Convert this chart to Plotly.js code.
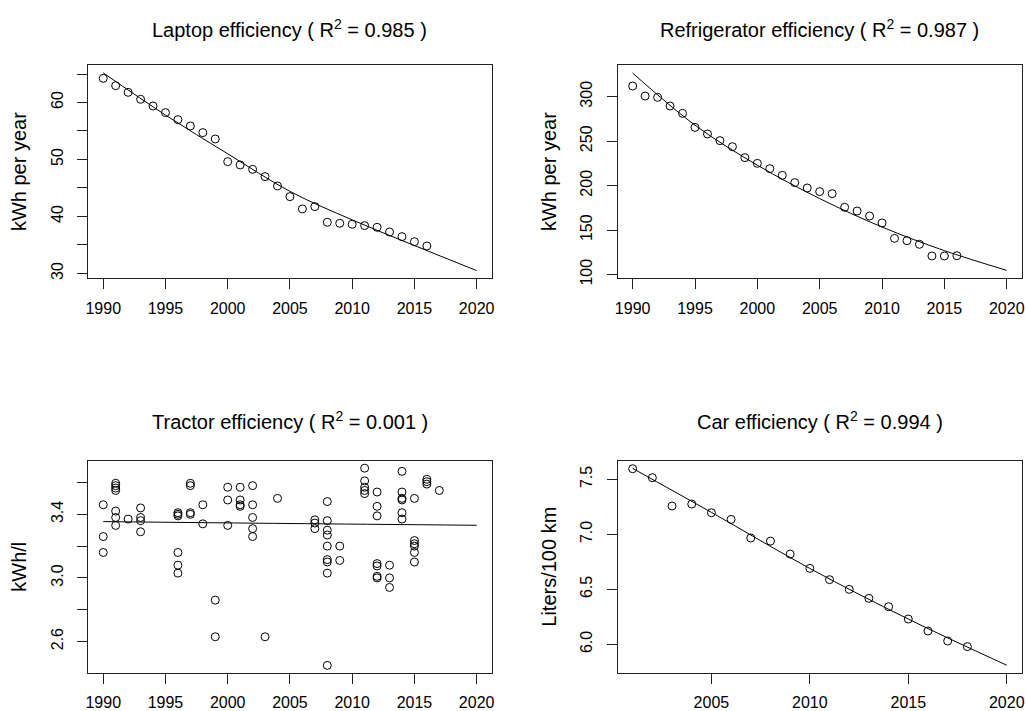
<!DOCTYPE html>
<html>
<head>
<meta charset="utf-8">
<script src="https://cdn.plot.ly/plotly-3.0.1.min.js"></script>
<style>html,body{margin:0;padding:0;background:#fff;}#chart{width:1026px;height:711px;}</style>
</head>
<body>
<div id="chart"></div>
<script>
// ---------- Data ----------
const laptopYears = [1990,1991,1992,1993,1994,1995,1996,1997,1998,1999,2000,2001,2002,2003,2004,2005,2006,2007,2008,2009,2010,2011,2012,2013,2014,2015,2016];
const laptopKwh = [64.24,62.95,61.78,60.56,59.39,58.22,56.99,55.88,54.71,53.6,49.62,49.04,48.27,46.99,45.35,43.48,41.32,41.73,38.98,38.8,38.63,38.39,38.1,37.28,36.46,35.58,34.82];
const laptopFitYears = [1990,1995,2000,2005,2010,2015,2020];
const laptopFit = [65.2,57.8,51.0,44.4,39.4,34.9,30.5];

const fridgeYears = [1990,1991,1992,1993,1994,1995,1996,1997,1998,1999,2000,2001,2002,2003,2004,2005,2006,2007,2008,2009,2010,2011,2012,2013,2014,2015,2016];
const fridgeKwh = [312.0,300.7,299.3,289.5,281.3,265.5,258.1,250.6,243.8,231.5,225.1,219.1,211.6,203.4,197.4,193.3,191.0,175.7,171.5,165.9,158.1,140.8,138.2,134.1,121.0,121.0,121.3];
const fridgeFitYears = [1990,1995,2000,2005,2010,2015,2020];
const fridgeFit = [326.5,268,223,185.5,153.5,127,104.8];

const tractorYears = [
  1990,1990,1990,
  1991,1991,1991,1991,1991,1991,1991,
  1992,
  1993,1993,1993,1993,
  1996,1996,1996,1996,1996,1996,
  1997,1997,1997,1997,
  1998,1998,
  1999,1999,
  2000,2000,2000,
  2001,2001,2001,2001,
  2002,2002,2002,2002,2002,
  2003,
  2004,
  2007,2007,2007,
  2008,2008,2008,2008,2008,2008,2008,2008,2008,
  2009,2009,
  2011,2011,2011,2011,2011,
  2012,2012,2012,2012,2012,2012,2012,
  2013,2013,2013,
  2014,2014,2014,2014,2014,2014,
  2015,2015,2015,2015,2015,2015,
  2016,2016,2016,
  2017
];
const tractorKwhL = [
  3.46,3.26,3.16,
  3.595,3.58,3.565,3.55,3.42,3.38,3.33,
  3.37,
  3.44,3.38,3.36,3.29,
  3.41,3.40,3.39,3.16,3.08,3.03,
  3.595,3.58,3.41,3.40,
  3.46,3.34,
  2.86,2.63,
  3.57,3.49,3.33,
  3.57,3.49,3.46,3.45,
  3.58,3.46,3.38,3.31,3.26,
  2.63,
  3.50,
  3.365,3.345,3.31,
  3.48,3.36,3.30,3.27,3.20,3.115,3.10,3.03,2.45,
  3.20,3.11,
  3.69,3.61,3.57,3.55,3.53,
  3.54,3.45,3.39,3.09,3.075,3.01,3.00,
  3.08,3.00,2.94,
  3.67,3.54,3.50,3.49,3.41,3.37,
  3.50,3.235,3.215,3.20,3.16,3.10,
  3.62,3.605,3.59,
  3.55
];
const tractorFitYears = [1990,2005,2020];
const tractorFit = [3.354,3.342,3.331];

const carYears = [2001,2002,2003,2004,2005,2006,2007,2008,2009,2010,2011,2012,2013,2014,2015,2016,2017,2018];
const carLiters = [7.597,7.515,7.258,7.276,7.197,7.136,6.967,6.939,6.821,6.691,6.588,6.5,6.418,6.342,6.23,6.121,6.03,5.979];
const carFitYears = [2001,2005,2010,2015,2020];
const carFit = [7.60,7.20,6.69,6.23,5.81];

const panelTitles = [
  'Laptop efficiency ( R<sup>2</sup> = 0.985 )',
  'Refrigerator efficiency ( R<sup>2</sup> = 0.987 )',
  'Tractor efficiency ( R<sup>2</sup> = 0.001 )',
  'Car efficiency ( R<sup>2</sup> = 0.994 )'
];
const yTitles = ['kWh per year','kWh per year','kWh/l','Liters/100 km'];

const yearTicks = [1990,1995,2000,2005,2010,2015,2020];
const carTicks = [2005,2010,2015,2020];
const laptopTicks = [30,40,50,60];
const laptopMinor = [35,45,55,65];
const fridgeTicks = [100,150,200,250,300];
const tractorTicks = [2.6,3.0,3.4];
const tractorMinor = [2.8,3.2,3.6];
const carYTicks = [6.0,6.5,7.0,7.5];

// ---------- Styling ----------
const FONT = 'Liberation Sans, Arial, sans-serif';
const W = 1026, H = 711;
const LINE = '#222';

function pts(x, y, xa, ya) {
  return {x: x, y: y, xaxis: xa, yaxis: ya, type: 'scatter', mode: 'markers',
    marker: {symbol: 'circle-open', size: 8, color: '#000', line: {width: 1, color: '#000'}},
    hoverinfo: 'x+y', showlegend: false};
}
function fit(x, y, xa, ya) {
  return {x: x, y: y, xaxis: xa, yaxis: ya, type: 'scatter', mode: 'lines',
    line: {color: '#000', width: 1, shape: 'spline'}, hoverinfo: 'skip', showlegend: false};
}

const data = [
  pts(laptopYears, laptopKwh, 'x', 'y'), fit(laptopFitYears, laptopFit, 'x', 'y'),
  pts(fridgeYears, fridgeKwh, 'x2', 'y2'), fit(fridgeFitYears, fridgeFit, 'x2', 'y2'),
  pts(tractorYears, tractorKwhL, 'x3', 'y3'), fit(tractorFitYears, tractorFit, 'x3', 'y3'),
  pts(carYears, carLiters, 'x4', 'y4'), fit(carFitYears, carFit, 'x4', 'y4')
];

function xAxis(domain, anchor, range, tv) {
  return {domain: domain, anchor: anchor, range: range, tickmode: 'array', tickvals: tv,
    ticktext: tv.map(v => String(v)),
    showgrid: false, zeroline: false, showline: true, mirror: true, linecolor: LINE, linewidth: 1,
    ticks: 'outside', ticklen: 10, tickwidth: 1, tickcolor: LINE, ticklabelstandoff: 5,
    tickfont: {family: FONT, size: 16, color: '#000'}, fixedrange: true};
}
function yAxis(domain, anchor, range, tv, fmt, minorVals, title) {
  const ax = {domain: domain, anchor: anchor, range: range, tickmode: 'array', tickvals: tv,
    ticktext: tv.map(v => v.toFixed(fmt)),
    showgrid: false, zeroline: false, showline: true, mirror: true, linecolor: LINE, linewidth: 1,
    ticks: 'outside', ticklen: 10, tickwidth: 1, tickcolor: LINE, tickangle: -90, ticklabelstandoff: 8,
    tickfont: {family: FONT, size: 16, color: '#000'}, fixedrange: true,
    title: {text: title, font: {family: FONT, size: 20, color: '#000'}, standoff: 16}};
  if (minorVals) {
    ax.minor = {tickmode: 'array', tickvals: minorVals, ticks: 'outside', ticklen: 10, tickwidth: 1, tickcolor: LINE, showgrid: false};
  }
  return ax;
}

const xL = [88.3 / W, 491.6 / W];
const xR = [617.7 / W, 1021.7 / W];
const yT = [1 - 278.3 / H, 1 - 65 / H];
const yB = [1 - 672.7 / H, 1 - 460.7 / H];

const titlePos = [
  [(88.3 + 491.6) / 2 / W, 1 - 29 / H],
  [(617.7 + 1021.7) / 2 / W, 1 - 29 / H],
  [(88.3 + 491.6) / 2 / W, 1 - 421 / H],
  [(617.7 + 1021.7) / 2 / W, 1 - 421 / H]
];

const layout = {
  width: W, height: H,
  margin: {l: 0, r: 0, t: 0, b: 0},
  paper_bgcolor: '#fff', plot_bgcolor: '#fff',
  showlegend: false,
  font: {family: FONT, size: 16, color: '#000'},
  xaxis: xAxis(xL, 'y', [1988.8, 2021.2], yearTicks),
  yaxis: yAxis(yT, 'x', [29.15, 66.58], laptopTicks, 0, laptopMinor, yTitles[0]),
  xaxis2: xAxis(xR, 'y2', [1988.8, 2021.2], yearTicks),
  yaxis2: yAxis(yT, 'x2', [95.9, 335.6], fridgeTicks, 0, null, yTitles[1]),
  xaxis3: xAxis(xL, 'y3', [1988.8, 2021.2], yearTicks),
  yaxis3: yAxis(yB, 'x3', [2.404, 3.737], tractorTicks, 1, tractorMinor, yTitles[2]),
  xaxis4: xAxis(xR, 'y4', [2000.24, 2020.76], carTicks),
  yaxis4: yAxis(yB, 'x4', [5.742, 7.670], carYTicks, 1, null, yTitles[3]),
  annotations: panelTitles.map((t, i) => ({
    text: t, xref: 'paper', yref: 'paper', x: titlePos[i][0], y: titlePos[i][1],
    xanchor: 'center', yanchor: 'middle', showarrow: false,
    font: {family: FONT, size: 20, color: '#000'}
  }))
};

Plotly.newPlot('chart', data, layout, {displayModeBar: false, staticPlot: true});
</script>
</body>
</html>
